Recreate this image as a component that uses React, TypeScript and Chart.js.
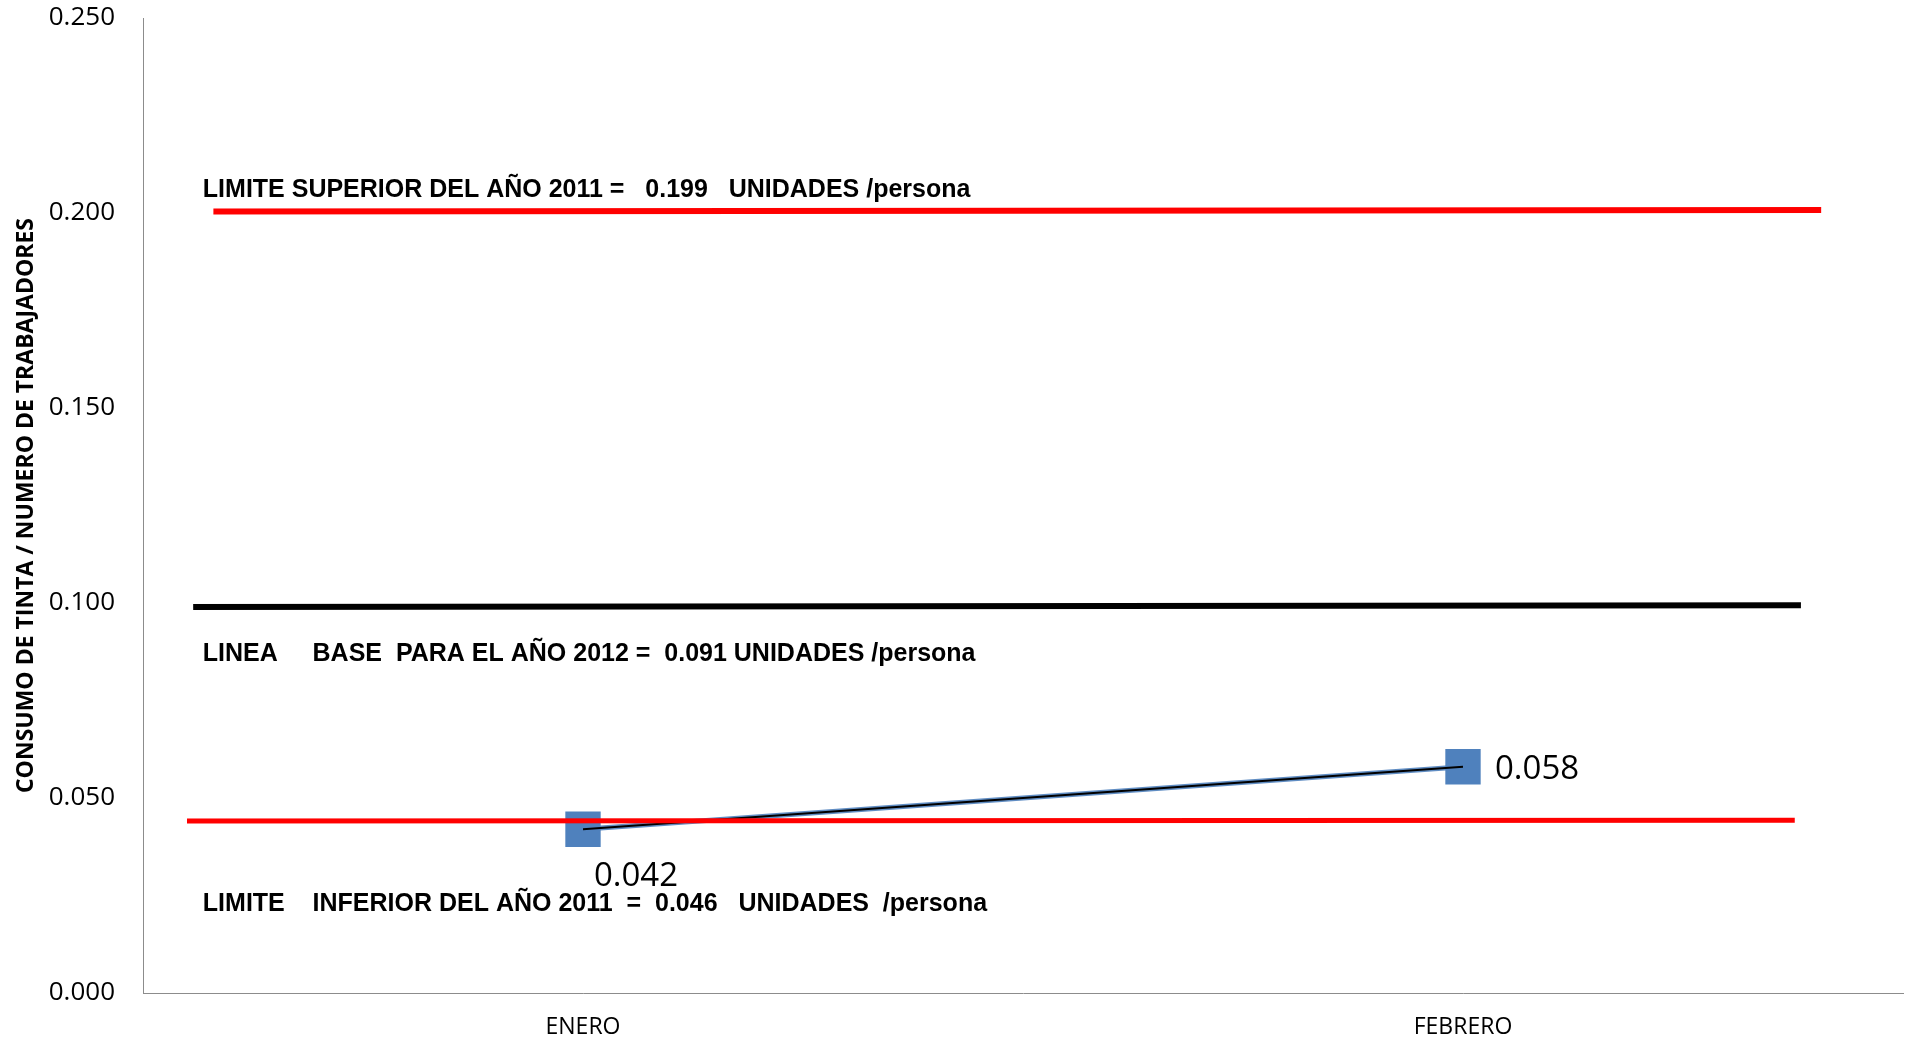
import React, { useEffect, useRef } from 'react';
import { Chart, registerables } from 'chart.js';

Chart.register(...registerables);

// ---- data ----
const categories = ['ENERO', 'FEBRERO'];
const consumo = [0.042, 0.058];
const yTickStep = 0.05;
const yMax = 0.25;

// reference lines (value at left end, value at right end) and horizontal span in category units
const upperLimitValues = [0.2004, 0.2008];
const upperLimitSpan = [-0.42, 1.407];
const baseLineValues = [0.099, 0.0994];
const baseLineSpan = [-0.443, 1.384];
const lowerLimitValues = [0.0441, 0.0443];
const lowerLimitSpan = [-0.45, 1.377];

// annotation texts with anchor (category units, value)
const noteTexts = [
  'LIMITE SUPERIOR DEL AÑO 2011 =   0.199   UNIDADES /persona',
  'LINEA     BASE  PARA EL AÑO 2012 =  0.091 UNIDADES /persona',
  'LIMITE    INFERIOR DEL AÑO 2011  =  0.046   UNIDADES  /persona',
];
const noteX = [-0.432, -0.432, -0.432];
const noteY = [0.2058, 0.0868, 0.0227];

const yTitle = 'CONSUMO DE TINTA / NUMERO DE TRABAJADORES';

const seg = (span: number[], vals: number[]) => [
  { x: span[0], y: vals[0] },
  { x: span[1], y: vals[1] },
];

const annotationPlugin = {
  id: 'notes',
  afterDatasetsDraw(chart: any) {
    const ctx = chart.ctx;
    const xs = chart.scales.xr;
    const ys = chart.scales.y;
    ctx.save();
    ctx.fillStyle = '#000';
    ctx.font = 'bold 25px "Liberation Sans"';
    ctx.textBaseline = 'middle';
    ctx.textAlign = 'left';
    noteTexts.forEach((t, i) => {
      ctx.fillText(t, xs.getPixelForValue(noteX[i]), ys.getPixelForValue(noteY[i]));
    });
    // data labels
    const meta = chart.getDatasetMeta(0);
    ctx.font = '33px "Open Sans"';
    meta.data.forEach((pt: any, i: number) => {
      const txt = consumo[i].toFixed(3);
      if (i === 0) {
        ctx.textAlign = 'center';
        ctx.fillText(txt, pt.x + 53, pt.y + 47);
      } else {
        ctx.textAlign = 'left';
        ctx.fillText(txt, pt.x + 32, pt.y + 3);
      }
    });
    ctx.restore();
  },
};

export default function App() {
  const ref = useRef<HTMLCanvasElement>(null);
  useEffect(() => {
    if (!ref.current) return;
    const chart = new Chart(ref.current, {
      type: 'line',
      data: {
        labels: categories,
        datasets: [
          {
            label: 'consumo',
            data: consumo,
            borderColor: 'rgba(79,129,189,0.9)',
            borderWidth: 5,
            pointStyle: 'rect',
            pointRadius: 25,
            pointBackgroundColor: '#4F81BD',
            pointBorderColor: '#4F81BD',
            pointBorderWidth: 0,
            order: 3,
          },
          {
            label: 'consumo-core',
            data: consumo,
            borderColor: '#000',
            borderWidth: 2,
            pointRadius: 0,
            order: 2,
          },
          {
            label: 'upper',
            xAxisID: 'xr',
            data: seg(upperLimitSpan, upperLimitValues),
            borderColor: '#FF0000',
            borderWidth: 6,
            pointRadius: 0,
            order: 1,
          },
          {
            label: 'base',
            xAxisID: 'xr',
            data: seg(baseLineSpan, baseLineValues),
            borderColor: '#000000',
            borderWidth: 6,
            pointRadius: 0,
            order: 1,
          },
          {
            label: 'lower',
            xAxisID: 'xr',
            data: seg(lowerLimitSpan, lowerLimitValues),
            borderColor: '#FF0000',
            borderWidth: 5,
            pointRadius: 0,
            order: 1,
          },
        ],
      },
      options: {
        animation: false,
        responsive: false,
        layout: { autoPadding: false, padding: { top: 18, right: 3, left: 0, bottom: 0 } },
        plugins: { legend: { display: false }, tooltip: { enabled: false } },
        scales: {
          x: {
            type: 'category',
            offset: true,
            grid: { display: false, drawTicks: false },
            border: { display: true, color: '#8c8c8c', width: 1 },
            ticks: { color: '#000', font: { family: 'Open Sans', size: 23 }, padding: 21 },
            afterFit: (s: any) => { s.height = 49; s.paddingLeft = 0; s.paddingRight = 0; },
          },
          xr: {
            type: 'linear',
            display: false,
            min: -0.5,
            max: 1.5,
          },
          y: {
            min: 0,
            max: yMax,
            grid: { display: false, drawTicks: false },
            border: { display: true, color: '#8c8c8c', width: 1 },
            ticks: {
              stepSize: yTickStep,
              color: '#000',
              font: { family: 'Open Sans', size: 26 },
              padding: 28,
              callback: (v: any) => Number(v).toFixed(3),
            },
            title: {
              display: true,
              text: yTitle,
              color: '#000',
              font: { family: 'Open Sans', size: 23, weight: 'bold' },
              padding: { top: 13, bottom: 0 },
            },
            afterFit: (s: any) => { s.width = 143; s.paddingTop = 0; s.paddingBottom = 0; },
          },
        },
      },
      plugins: [annotationPlugin],
    } as any);
    return () => chart.destroy();
  }, []);
  return (
    <div style={{ position: 'fixed', left: 0, top: 0, width: 1906, height: 1042, background: '#fff' }}>
      <canvas ref={ref} width={1906} height={1042} style={{ width: 1906, height: 1042, display: 'block' }} />
    </div>
  );
}
